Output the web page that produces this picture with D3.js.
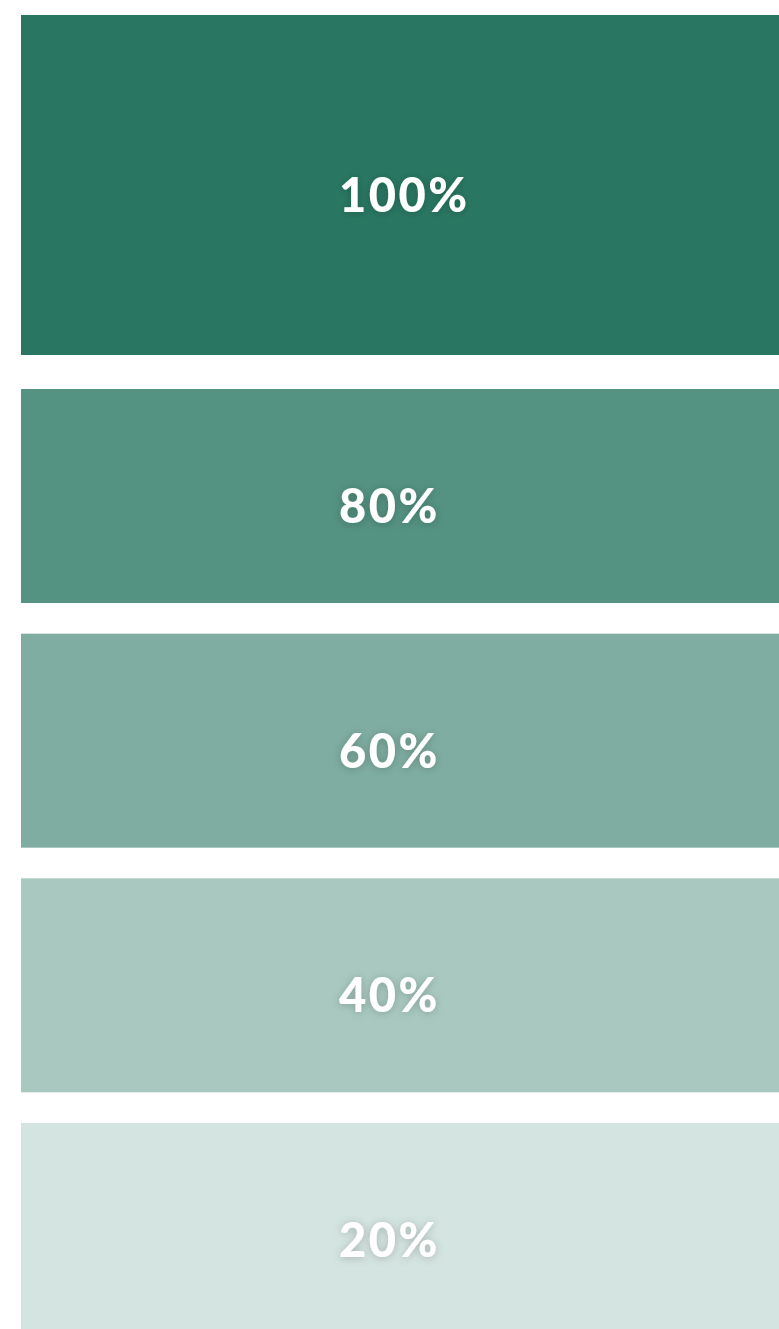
<!DOCTYPE html>
<html>
<head>
<meta charset="utf-8">
<script src="https://cdn.jsdelivr.net/npm/d3@7"></script>
<style>
  html, body { margin: 0; padding: 0; background: #fff; overflow: hidden; }
  svg { display: block; }
</style>
</head>
<body>
<script>
// Data
const labels = ["100%", "80%", "60%", "40%", "20%"];
const opacities = [1.0, 0.8, 0.6, 0.4, 0.2];
const baseColor = "#297762";

const W = 779, H = 1329;
const svg = d3.select("body").append("svg").attr("width", W).attr("height", H);

const defs = svg.append("defs");
const f = defs.append("filter").attr("id", "ts").attr("x", "-30%").attr("y", "-50%").attr("width", "160%").attr("height", "200%");
f.append("feDropShadow").attr("dx", 0).attr("dy", 1).attr("stdDeviation", 4)
  .attr("flood-color", "#000").attr("flood-opacity", 0.22);

const x0 = 21, x1 = 800;
const heroTop = 15, heroH = 340;
const rest = labels.slice(1);
const yBand = d3.scaleBand().domain(rest).range([389, 1337]).paddingInner(0.1253).paddingOuter(0);

const color = d3.scaleLinear().domain([0, 1]).range(["#ffffff", baseColor]);

const data = labels.map((l, i) => {
  const top = i === 0 ? heroTop : yBand(l);
  const h = i === 0 ? heroH : yBand.bandwidth();
  return { label: l, op: opacities[i], top, h };
});

const g = svg.selectAll("g.sw").data(data).join("g").attr("class", "sw");
g.append("rect")
  .attr("x", x0).attr("y", d => d.top)
  .attr("width", x1 - x0).attr("height", d => d.h)
  .attr("fill", d => color(d.op));

g.append("text")
  .attr("x", 339)
  .attr("y", d => d.top + d.h / 2 + 27)
  .attr("fill", "#fff")
  .attr("font-family", "Lato, 'Noto Sans', sans-serif")
  .attr("font-weight", 900)
  .attr("font-size", 47)
  .attr("letter-spacing", 2.5)
  .attr("filter", "url(#ts)")
  .text(d => d.label);
</script>
</body>
</html>
